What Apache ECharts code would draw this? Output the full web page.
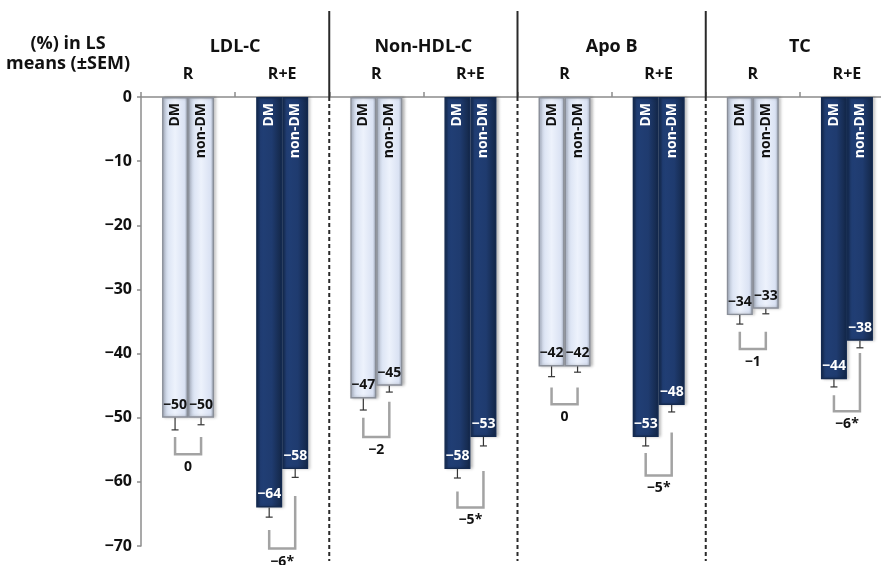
<!DOCTYPE html>
<html>
<head>
<meta charset="utf-8">
<script src="https://cdn.jsdelivr.net/npm/echarts@6/dist/echarts.min.js"></script>
<style>
  html, body { margin: 0; padding: 0; background: #fff; }
  #chart { width: 881px; height: 565px; }
</style>
</head>
<body>
<div id="chart"></div>
<script>
// Lipid endpoints, each with two treatment arms
const groups = ['LDL-C', 'Non-HDL-C', 'Apo B', 'TC'];
const arms = ['R', 'R+E', 'R', 'R+E', 'R', 'R+E', 'R', 'R+E'];
const seriesNames = ['DM', 'non-DM'];

// % change in LS means
const dmValues = [-50, -64, -47, -58, -42, -53, -34, -44];
const nonDmValues = [-50, -58, -45, -53, -42, -48, -33, -38];

// standard errors of the means
const dmSem = [1.9, 1.5, 1.8, 1.4, 1.6, 1.4, 1.4, 1.2];
const nonDmSem = [1.1, 1.3, 1.0, 1.4, 0.9, 1.1, 0.8, 1.1];

// DM vs non-DM difference brackets (value units)
const diffLabels = ['0', '\u22126*', '\u22122', '\u22125*', '0', '\u22125*', '\u22121', '\u22126*'];
const bracketDmTop = [-53, -67.5, -50, -61.5, -45.3, -55.5, -36.6, -46.5];
const bracketNonDmTop = [-53, -62.2, -47.5, -58.3, -45.3, -52.3, -36.6, -39.9];
const bracketBottom = [-55.7, -70.4, -53, -64, -47.9, -59, -39.3, -49];

// value axis
const yMin = -70, yMax = 0, yStep = 10;

const FONT = 'Open Sans';
const BAR_W = 26;
const minus = v => String(v).replace('-', '\u2212');

const lightFill = new echarts.graphic.LinearGradient(0, 0, 1, 0, [
  { offset: 0, color: '#a7b0c1' },
  { offset: 0.14, color: '#d8e1f2' },
  { offset: 0.5, color: '#edf2fc' },
  { offset: 0.86, color: '#dae2f3' },
  { offset: 1, color: '#9aa3b4' }
]);
const darkFill = new echarts.graphic.LinearGradient(0, 0, 1, 0, [
  { offset: 0, color: '#132748' },
  { offset: 0.15, color: '#213f76' },
  { offset: 0.6, color: '#1f3b6f' },
  { offset: 1, color: '#132646' }
]);

function barData(values) {
  return values.map((v, i) => {
    const light = arms[i] === 'R';
    return {
      value: v,
      itemStyle: {
        color: light ? lightFill : darkFill,
        borderColor: light ? '#8a8f99' : '#142a50',
        borderWidth: 1.4,
        shadowColor: 'rgba(0,0,0,0.25)',
        shadowBlur: 3,
        shadowOffsetX: 2
      },
      label: { color: light ? '#111' : '#fff' }
    };
  });
}

function barSeries(name, values) {
  return {
    name: name,
    type: 'bar',
    xAxisIndex: 0,
    barWidth: BAR_W,
    barGap: '0%',
    data: barData(values),
    label: {
      show: true,
      position: 'insideBottom',
      distance: 6,
      fontFamily: FONT,
      fontWeight: 'bold',
      fontSize: 14,
      formatter: p => minus(p.value)
    },
    z: 2
  };
}

// error bars: side -1 = DM bar, +1 = non-DM bar
const errData = [];
dmValues.forEach((v, i) => errData.push([i, v, dmSem[i], -1]));
nonDmValues.forEach((v, i) => errData.push([i, v, nonDmSem[i], 1]));

// series names written vertically inside each bar
const nameData = [];
arms.forEach((a, i) => {
  nameData.push([i, 0, -1, a === 'R' ? 0 : 1]);
  nameData.push([i, 0, 1, a === 'R' ? 0 : 1]);
});

const bracketData = arms.map((a, i) => [i, bracketDmTop[i], bracketNonDmTop[i], bracketBottom[i]]);

const chart = echarts.init(document.getElementById('chart'), null, { renderer: 'canvas' });

chart.setOption({
  animation: false,
  backgroundColor: '#fff',
  grid: { left: 141, top: 97, width: 753, height: 449, containLabel: false, outerBoundsMode: 'none' },
  graphic: [{
    type: 'text',
    x: 68,
    y: 54,
    style: {
      text: '(%) in LS\nmeans (\u00b1SEM)',
      fontFamily: FONT,
      fontWeight: 'bold',
      fontSize: 18,
      lineHeight: 20,
      align: 'center',
      verticalAlign: 'middle',
      fill: '#111'
    }
  }],
  xAxis: [{
    type: 'category',
    position: 'top',
    data: arms,
    axisLine: { show: true, lineStyle: { color: '#8c8c8c', width: 1.5 } },
    axisTick: { show: true, length: 5, lineStyle: { color: '#8c8c8c', width: 1.5 } },
    axisLabel: { margin: 15, fontFamily: FONT, fontWeight: 'bold', fontSize: 16, color: '#111' },
    splitLine: { show: false }
  }, {
    type: 'category',
    position: 'top',
    data: groups,
    axisLine: { show: false },
    axisTick: { show: false },
    axisLabel: { margin: 41, fontFamily: FONT, fontWeight: 'bold', fontSize: 18, color: '#111' },
    splitLine: { show: false }
  }],
  yAxis: {
    type: 'value',
    min: yMin,
    max: yMax,
    interval: yStep,
    axisLine: { show: true, lineStyle: { color: '#8c8c8c', width: 1.5 } },
    axisTick: { show: true, length: 4, lineStyle: { color: '#8c8c8c', width: 1.5 } },
    axisLabel: { margin: 9, fontFamily: FONT, fontWeight: 'bold', fontSize: 16, color: '#111', formatter: v => minus(v) },
    splitLine: { show: false }
  },
  series: [
    barSeries(seriesNames[0], dmValues),
    barSeries(seriesNames[1], nonDmValues),
    {
      type: 'custom',
      xAxisIndex: 0,
      data: errData,
      z: 3,
      renderItem: (params, api) => {
        const side = api.value(3);
        const p1 = api.coord([api.value(0), api.value(1)]);
        const p2 = api.coord([api.value(0), api.value(1) - api.value(2)]);
        const x = p1[0] + side * BAR_W / 2;
        const st = { stroke: '#333', lineWidth: 1.2 };
        return {
          type: 'group',
          children: [
            { type: 'line', shape: { x1: x, y1: p1[1], x2: x, y2: p2[1] }, style: st },
            { type: 'line', shape: { x1: x - 3.5, y1: p2[1], x2: x + 3.5, y2: p2[1] }, style: st }
          ]
        };
      }
    },
    {
      type: 'custom',
      xAxisIndex: 0,
      data: nameData,
      z: 4,
      renderItem: (params, api) => {
        const p = api.coord([api.value(0), 0]);
        const side = api.value(2);
        const dark = api.value(3) === 1;
        return {
          type: 'text',
          x: p[0] + side * BAR_W / 2,
          y: p[1] + 6,
          rotation: Math.PI / 2,
          style: {
            text: seriesNames[side < 0 ? 0 : 1],
            fontFamily: FONT,
            fontWeight: 'bold',
            fontSize: 14,
            fill: dark ? '#fff' : '#111',
            align: 'right',
            verticalAlign: 'middle'
          }
        };
      }
    },
    {
      type: 'custom',
      xAxisIndex: 0,
      data: bracketData,
      z: 3,
      renderItem: (params, api) => {
        const i = api.value(0);
        const c = api.coord([i, 0])[0];
        const xl = c - BAR_W / 2, xr = c + BAR_W / 2;
        const yl = api.coord([i, api.value(1)])[1];
        const yr = api.coord([i, api.value(2)])[1];
        const yb = api.coord([i, api.value(3)])[1];
        return {
          type: 'group',
          children: [
            {
              type: 'polyline',
              shape: { points: [[xl, yl], [xl, yb], [xr, yb], [xr, yr]] },
              style: { stroke: '#a3a3a3', lineWidth: 2.5, fill: null }
            },
            {
              type: 'text',
              x: c,
              y: yb + 13,
              style: {
                text: diffLabels[params.dataIndex],
                fontFamily: FONT,
                fontWeight: 'bold',
                fontSize: 14,
                fill: '#111',
                align: 'center',
                verticalAlign: 'middle'
              }
            }
          ]
        };
      }
    },
    {
      // separators between the endpoint groups
      type: 'custom',
      xAxisIndex: 0,
      data: [[1, 0], [3, 0], [5, 0]],
      z: 1,
      renderItem: (params, api) => {
        const p = api.coord([api.value(0), 0]);
        const x = p[0] + api.size([1, 0])[0] / 2;
        return {
          type: 'group',
          children: [
            { type: 'line', shape: { x1: x, y1: 11, x2: x, y2: p[1] }, style: { stroke: '#2a2a2a', lineWidth: 2 } },
            { type: 'line', shape: { x1: x, y1: p[1], x2: x, y2: api.getHeight() - 4 }, style: { stroke: '#2a2a2a', lineWidth: 2, lineDash: [4, 3] } }
          ]
        };
      }
    }
  ]
});
</script>
</body>
</html>
